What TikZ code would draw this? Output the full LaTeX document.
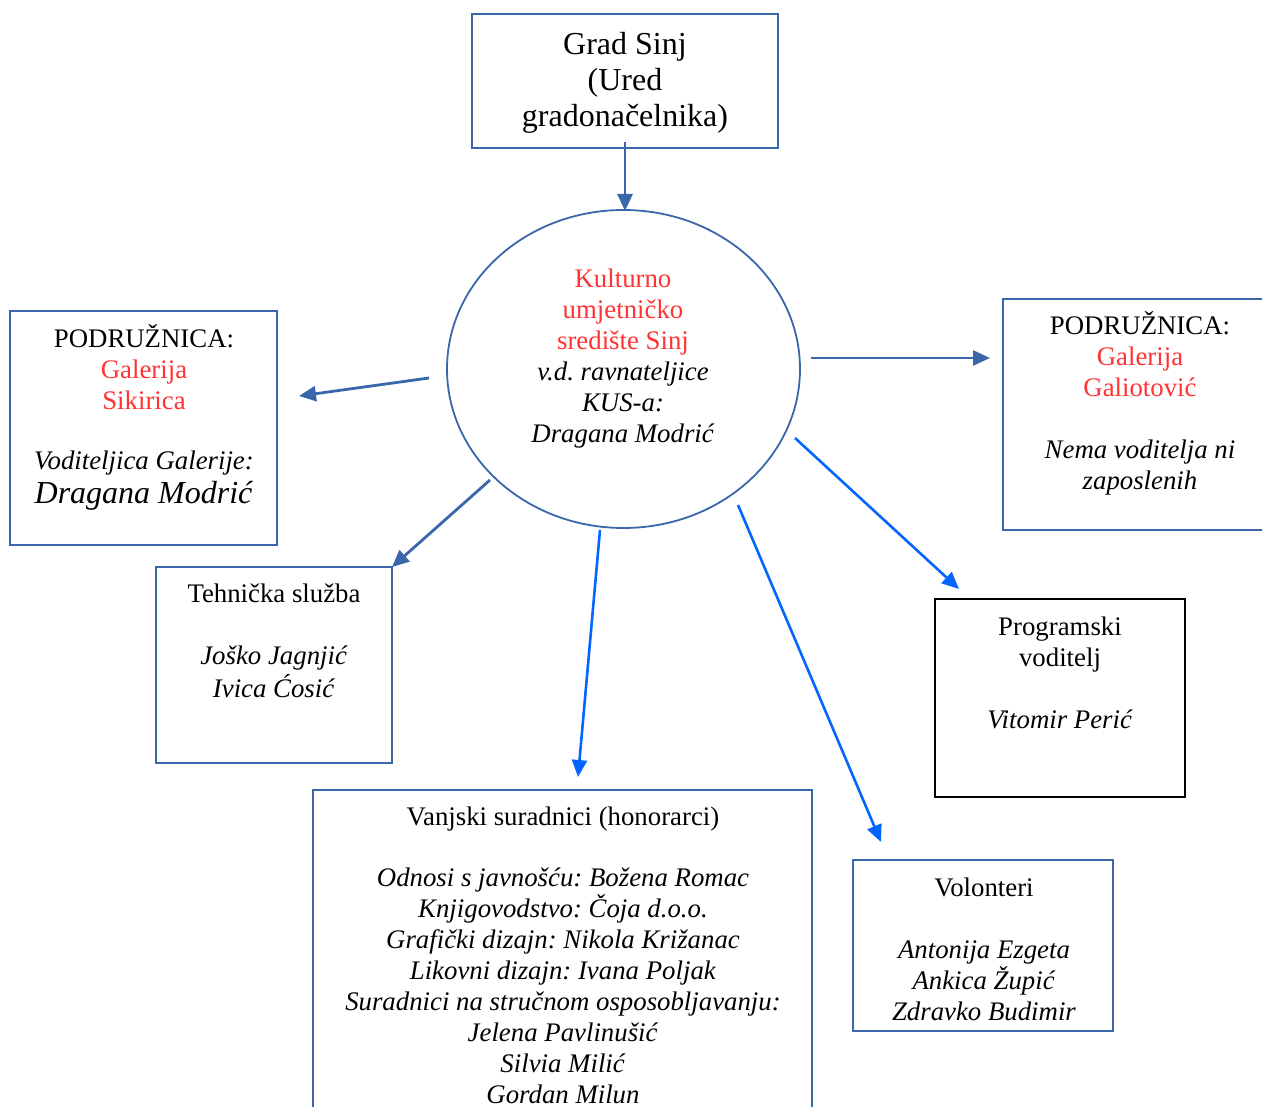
\documentclass[tikz,border=0pt]{standalone}
\usepackage{fontspec}
\setmainfont{Liberation Serif}
\frenchspacing
\usetikzlibrary{arrows.meta,shapes.geometric}
\definecolor{boxblue}{RGB}{58,103,170}
\definecolor{arrblue}{RGB}{5,102,255}
\definecolor{redtxt}{RGB}{255,51,51}
\tikzset{
  box/.style={draw=boxblue, line width=2pt, rectangle, inner sep=0pt},
  blackbox/.style={draw=black, line width=2pt, rectangle, inner sep=0pt},
  txt/.style={align=center, inner sep=0pt, font=\fontsize{26.8}{31}\selectfont},
  bigtxt/.style={align=center, inner sep=0pt, font=\fontsize{32}{36}\selectfont},
  arr/.style={draw=boxblue, line width=2.8pt, -{Triangle[length=17pt,width=15pt]}},
  arrb/.style={draw=arrblue, line width=2.6pt, -{Triangle[length=17pt,width=15pt]}},
}
\begin{document}
\begin{tikzpicture}[x=1pt,y=-1pt]
\useasboundingbox (0,0) rectangle (1262,1107);
\clip (0,0) rectangle (1262,1107);
\fill[white] (0,0) rectangle (1262,1107);

% boxes
\node[box, minimum width=306pt, minimum height=134pt] (grad) at (625,81) {};
\node[ellipse, draw=boxblue, line width=1.8pt, minimum width=353pt, minimum height=318pt, inner sep=0pt] (kus) at (623.5,369) {};
\node[box, minimum width=267pt, minimum height=234pt] (sik) at (143.5,428) {};
\node[box, minimum width=267pt, minimum height=231pt] (gal) at (1136.5,414.5) {};
\node[box, minimum width=236pt, minimum height=196pt] (teh) at (274,665) {};
\node[blackbox, minimum width=250pt, minimum height=198pt] (prog) at (1060,698) {};
\node[box, minimum width=499pt, minimum height=330pt] (vanj) at (562.5,955) {};
\node[box, minimum width=260pt, minimum height=171pt] (vol) at (983,945.5) {};

% texts
\node[bigtxt] (tgrad) at (625,83) {Grad Sinj\\(Ured\\gradonačelnika)};
\node[txt] (tkus) at (623,359) {\textcolor{redtxt}{Kulturno}\\\textcolor{redtxt}{umjetničko}\\\textcolor{redtxt}{središte Sinj}\\\textit{v.d. ravnateljice}\\\textit{KUS-a:}\\\textit{Dragana Modrić}};
\node[txt] (tsik) at (144,417.5) {PODRUŽNICA:\\\textcolor{redtxt}{Galerija}\\\textcolor{redtxt}{Sikirica}\\[29pt]\textit{Voditeljica Galerije:}\\[3pt]{\fontsize{32}{34}\selectfont\textit{Dragana Modrić}}};
\node[txt] (tgal) at (1140,403) {PODRUŽNICA:\\\textcolor{redtxt}{Galerija}\\\textcolor{redtxt}{Galiotović}\\[31pt]\textit{Nema voditelja ni}\\\textit{zaposlenih}};
\node[txt] (tteh) at (274,641) {Tehnička služba\\[31pt]\textit{Joško Jagnjić}\\[2pt]\textit{Ivica Ćosić}};
\node[txt] (tprog) at (1060,672.5) {Programski\\voditelj\\[31pt]\textit{Vitomir Perić}};
\node[txt] (tvanj) at (563,955) {Vanjski suradnici (honorarci)\\[30pt]\textit{Odnosi s javnošću: Božena Romac}\\\textit{Knjigovodstvo: Čoja d.o.o.}\\\textit{Grafički dizajn: Nikola Križanac}\\\textit{Likovni dizajn: Ivana Poljak}\\\textit{Suradnici na stručnom osposobljavanju:}\\\textit{Jelena Pavlinušić}\\\textit{Silvia Milić}\\\textit{Gordan Milun}};
\node[txt] (tvol) at (984,949) {Volonteri\\[31pt]\textit{Antonija Ezgeta}\\\textit{Ankica Župić}\\\textit{Zdravko Budimir}};

% arrow end points
\coordinate (a1s) at (625,142); \coordinate (a1e) at (625,211);
\coordinate (a2s) at (429,378); \coordinate (a2e) at (299,396);
\coordinate (a3s) at (811,358); \coordinate (a3e) at (990,358);
\coordinate (a4s) at (490,480); \coordinate (a4e) at (392,567);
\coordinate (a5s) at (600,530); \coordinate (a5e) at (578,777);
\coordinate (a6s) at (738,505); \coordinate (a6e) at (881,842);
\coordinate (a7s) at (795,438); \coordinate (a7e) at (959,589);

\draw[arr] (a1s) -- (a1e);
\draw[arr] (a2s) -- (a2e);
\draw[arr] (a3s) -- (a3e);
\draw[arr] (a4s) -- (a4e);
\draw[arrb] (a5s) -- (a5e);
\draw[arrb] (a6s) -- (a6e);
\draw[arrb] (a7s) -- (a7e);
\end{tikzpicture}
\end{document}
